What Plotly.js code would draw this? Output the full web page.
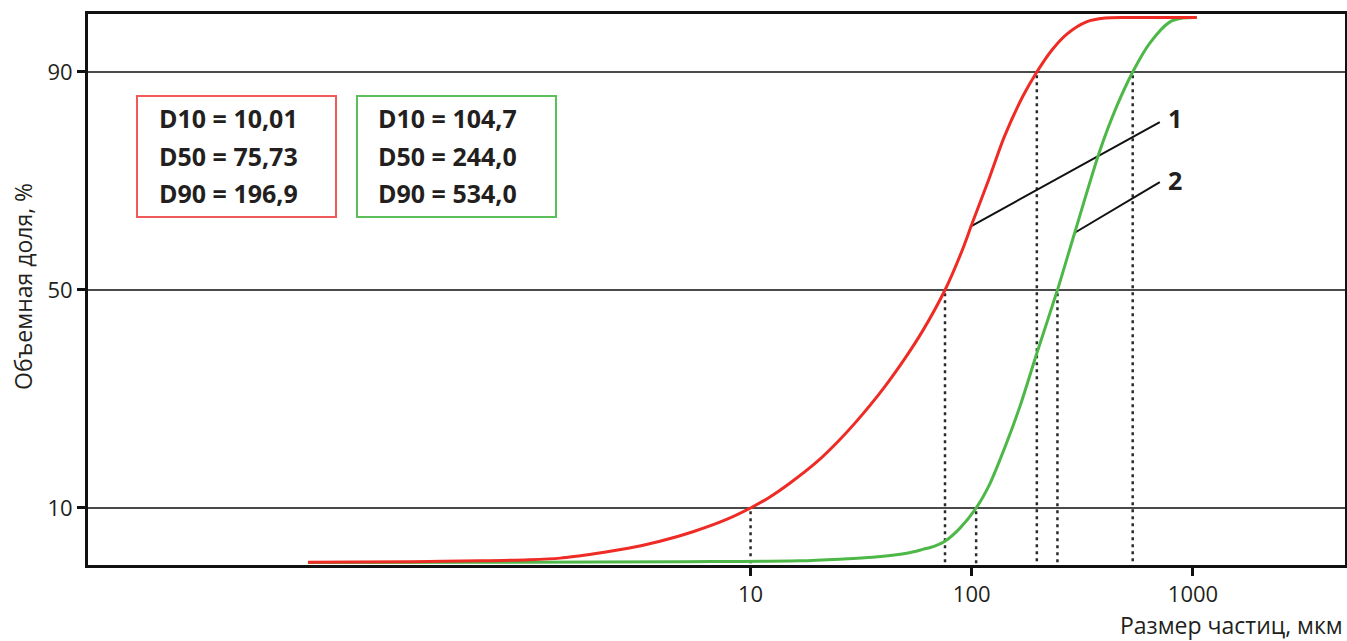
<!DOCTYPE html>
<html>
<head>
<meta charset="utf-8">
<script src="https://cdn.plot.ly/plotly-3.0.1.min.js"></script>
<style>html,body{margin:0;padding:0;background:#fff;}#chart{width:1347px;height:641px;}</style>
</head>
<body>
<div id="chart"></div>
<script>
// Data
var sizes1 = [0.1, 0.3, 0.6, 1.0, 1.38, 2.0, 2.8, 3.9, 5.5, 7.8, 10.01, 12, 15, 20, 25, 30, 40, 50, 60, 75.73, 90, 100, 120, 140, 170, 196.9, 230, 270, 330, 400, 500, 700, 1040];
var cum1   = [0.05, 0.15, 0.3, 0.5, 0.8, 1.65, 2.6, 3.9, 5.65, 7.9, 10, 11.8, 14.5, 18.5, 22.3, 25.8, 32, 37.5, 42.5, 50, 57, 62, 70.5, 78, 85.5, 90, 94, 97, 99.2, 99.9, 100, 100, 100];
var sizes2 = [0.1, 1, 5, 16.7, 25.4, 35.7, 50.9, 60.1, 68, 75.7, 88.5, 104.7, 120, 134, 165, 196.9, 244, 292, 379, 450, 534, 638, 787, 900, 1040];
var cum2   = [0.02, 0.05, 0.15, 0.3, 0.6, 0.95, 1.7, 2.4, 3.0, 3.9, 6.3, 10, 14.2, 18.8, 28.6, 38.4, 50, 60.5, 75.5, 83.5, 90, 95.3, 99.2, 99.9, 100];
var dLevels = [10, 50, 90];
var dValues1 = [10.01, 75.73, 196.9];
var dValues2 = [104.7, 244.0, 534.0];
var dText1 = ["D10 = 10,01", "D50 = 75,73", "D90 = 196,9"];
var dText2 = ["D10 = 104,7", "D50 = 244,0", "D90 = 534,0"];
var xTickVals = [10, 100, 1000];
var xTickText = ["10", "100", "1000"];
var yTickVals = [10, 50, 90];
var yTickText = ["10", "50", "90"];
var leader1 = {x: [98.2, 708], y: [61.6, 80.8], label: "1", lx: 755, ly: 81.6};
var leader2 = {x: [292, 708], y: [60.5, 69.8], label: "2", lx: 755, ly: 70.2};

var RED = '#ee2b24', GREEN = '#4db848', TXT = '#231f20';
var FONT = 'Open Sans, sans-serif';
var W = 1347, H = 641, L = 88, R = 2, T = 14, B = 76;
var PW = W - L - R, PH = H - T - B;
function px(xp) { return (xp - L) / PW; }
function py(yp) { return 1 - (yp - T) / PH; }

var traces = [];
var yBottom = -0.5;
function addDrops(vals) {
  for (var i = 0; i < vals.length; i++) {
    traces.push({x: [vals[i], vals[i]], y: [dLevels[i] - 0.6, yBottom], mode: 'lines', type: 'scatter',
      line: {color: '#2a2a2a', width: 2.5, dash: '3px,4px'}, hoverinfo: 'skip', showlegend: false});
  }
}
addDrops(dValues1);
addDrops(dValues2);
[leader1, leader2].forEach(function (ld) {
  traces.push({x: ld.x, y: ld.y, mode: 'lines', type: 'scatter', line: {color: '#111', width: 2}, hoverinfo: 'skip', showlegend: false});
});
traces.push({x: sizes2, y: cum2, mode: 'lines', type: 'scatter', line: {color: GREEN, width: 3, shape: 'spline', smoothing: 0.8}, showlegend: false});
traces.push({x: sizes1, y: cum1, mode: 'lines', type: 'scatter', line: {color: RED, width: 3, shape: 'spline', smoothing: 0.8}, showlegend: false});

var annotations = [];
var lineY = [118, 156, 193];
for (var i = 0; i < 3; i++) {
  annotations.push({xref: 'paper', yref: 'paper', x: px(157), y: py(lineY[i]), xanchor: 'left', yanchor: 'middle', text: '<b>' + dText1[i] + '</b>', showarrow: false, font: {family: FONT, size: 25, color: TXT}});
  annotations.push({xref: 'paper', yref: 'paper', x: px(376), y: py(lineY[i]), xanchor: 'left', yanchor: 'middle', text: '<b>' + dText2[i] + '</b>', showarrow: false, font: {family: FONT, size: 25, color: TXT}});
}
[leader1, leader2].forEach(function (ld) {
  annotations.push({xref: 'x', yref: 'y', x: Math.log10(ld.lx), y: ld.ly, xanchor: 'left', yanchor: 'middle', text: '<b>' + ld.label + '</b>', showarrow: false, font: {family: FONT, size: 25, color: TXT}});
});
annotations.push({xref: 'paper', yref: 'paper', x: px(23), y: py(287), textangle: -90, xanchor: 'center', yanchor: 'middle', text: 'Объемная доля, %', showarrow: false, font: {family: FONT, size: 23, color: TXT}});
annotations.push({xref: 'paper', yref: 'paper', x: 1, y: py(625), xanchor: 'right', yanchor: 'middle', text: 'Размер частиц, мкм', showarrow: false, font: {family: FONT, size: 23, color: TXT}});

var shapes = [
  {type: 'rect', xref: 'paper', yref: 'paper', x0: px(137), x1: px(336), y0: py(96), y1: py(217), line: {color: '#f05a5a', width: 2}},
  {type: 'rect', xref: 'paper', yref: 'paper', x0: px(357), x1: px(556), y0: py(96), y1: py(217), line: {color: '#5cbf5a', width: 2}}
];

var layout = {
  width: W, height: H,
  margin: {l: L, r: R, t: T, b: B, pad: 0},
  paper_bgcolor: '#fff', plot_bgcolor: '#fff',
  showlegend: false,
  font: {family: FONT, color: TXT},
  xaxis: {type: 'log', range: [-1.994, 3.687], tickvals: xTickVals, ticktext: xTickText, ticks: 'outside', ticklen: 8, tickwidth: 3, tickcolor: '#111',
    showgrid: false, zeroline: false, showline: true, linecolor: '#111', linewidth: 3, mirror: true, tickfont: {family: FONT, size: 22, color: TXT}},
  yaxis: {range: [-0.46, 100.64], tickvals: yTickVals, ticktext: yTickText, ticks: 'outside', ticklen: 8, tickwidth: 3, tickcolor: '#111',
    showgrid: true, gridcolor: '#4a4a4a', gridwidth: 1.5, zeroline: false, showline: true, linecolor: '#111', linewidth: 3, mirror: true, tickfont: {family: FONT, size: 22, color: TXT}},
  annotations: annotations,
  shapes: shapes
};

Plotly.newPlot('chart', traces, layout, {displayModeBar: false, staticPlot: true});
</script>
</body>
</html>
